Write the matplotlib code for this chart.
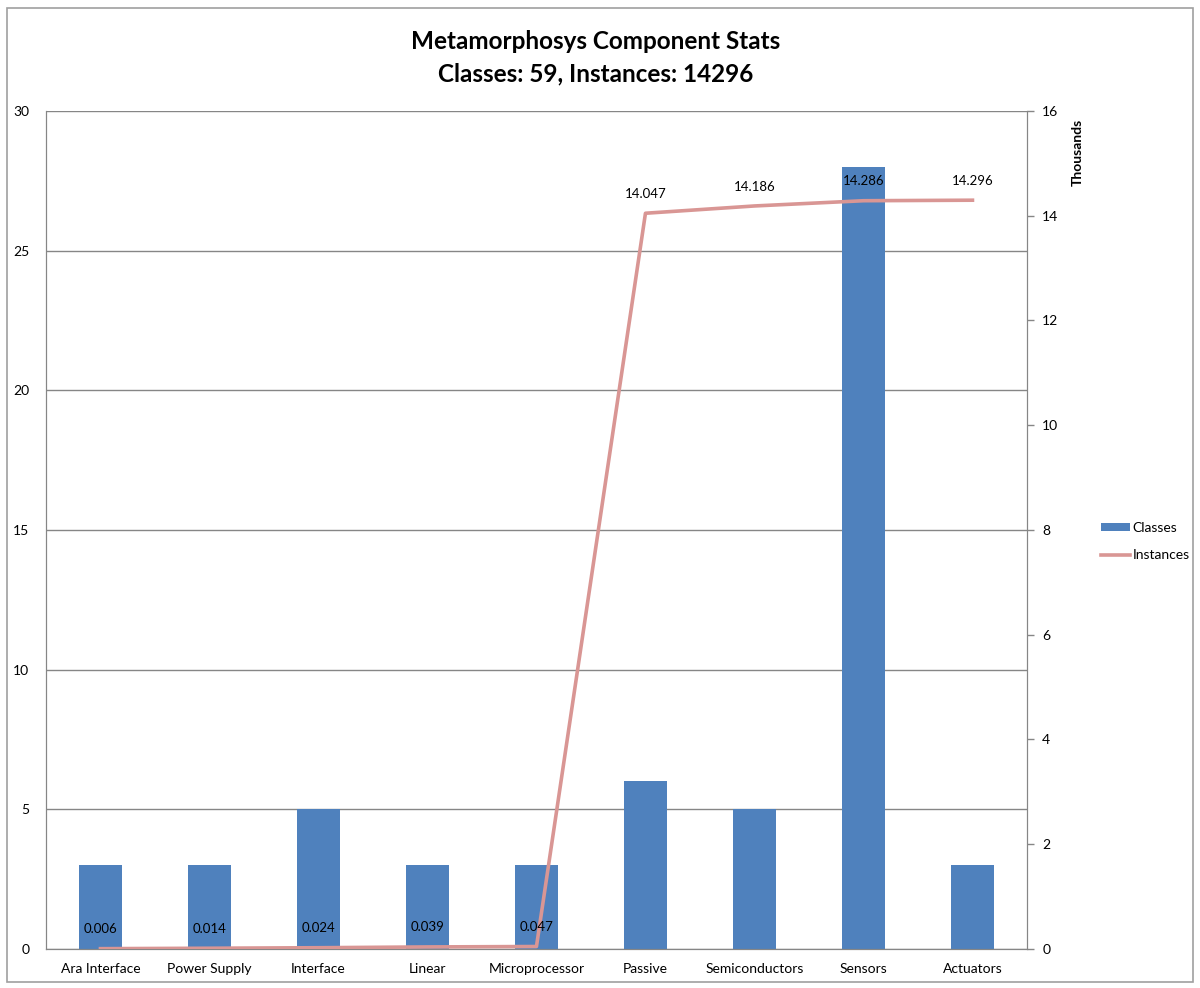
import matplotlib
matplotlib.use("Agg")
import matplotlib.pyplot as plt
from matplotlib.patches import Rectangle
import numpy as np

categories = ["Ara Interface", "Power Supply", "Interface", "Linear", "Microprocessor",
              "Passive", "Semiconductors", "Sensors", "Actuators"]
classes = [3, 3, 5, 3, 3, 6, 5, 28, 3]
instances_thousands = [0.006, 0.014, 0.024, 0.039, 0.047, 14.047, 14.186, 14.286, 14.296]
instance_labels = ["0.006", "0.014", "0.024", "0.039", "0.047", "14.047", "14.186", "14.286", "14.296"]

plt.rcParams['font.family'] = ['Lato', 'DejaVu Sans']

BAR = "#4F81BD"
LINE = "#D99694"
GRID = "#868686"

fig = plt.figure(figsize=(12, 9.88), dpi=100)
fig.patches.append(Rectangle((0.006, 0.006), 0.988, 0.986, transform=fig.transFigure,
                             fill=False, edgecolor="#A0A0A0", linewidth=1.2))

ax = fig.add_axes([0.0383, 0.0395, 0.8175, 0.8482])
x = np.arange(len(categories))
ax.bar(x, classes, width=0.4, color=BAR, label="Classes", zorder=2)
ax.set_xlim(-0.5, len(categories) - 0.5)
ax.set_ylim(0, 30)
ax.set_yticks(np.arange(0, 31, 5))
ax.yaxis.grid(True, color=GRID, linewidth=1.0)
ax.set_axisbelow(True)
ax.set_xticks(x)
ax.set_xticklabels(categories, fontsize=10)
ax.tick_params(axis='x', length=0, pad=10)
ax.tick_params(axis='y', length=0, pad=12, labelsize=10)
for s in ["left", "bottom", "right", "top"]:
    ax.spines[s].set_color(GRID)
ax.spines["top"].set_visible(False)

ax2 = ax.twinx()
ax2.plot(x, instances_thousands, color=LINE, linewidth=2.6, label="Instances", zorder=3)
ax2.set_ylim(0, 16)
ax2.set_yticks(np.arange(0, 17, 2))
ax2.tick_params(axis='y', length=5, width=1, color=GRID, direction='out', labelsize=10, pad=6)
for s in ["left", "bottom", "right", "top"]:
    ax2.spines[s].set_color(GRID)
ax2.spines["top"].set_visible(False)
ax2.set_ylabel("Thousands", fontsize=10, fontweight='bold')
ax2.yaxis.set_label_coords(1.046, 0.95)

for xi, yi, lab in zip(x, instances_thousands, instance_labels):
    ax2.annotate(lab, (xi, yi), xytext=(0, 14), textcoords="offset points",
                 ha="center", va="center", fontsize=9.5)

fig.text(0.496, 0.958, "Metamorphosys Component Stats", ha="center", va="center",
         fontsize=17.5, fontweight="bold")
fig.text(0.496, 0.925, "Classes: 59, Instances: 14296", ha="center", va="center",
         fontsize=17.5, fontweight="bold")

h1, l1 = ax.get_legend_handles_labels()
h2, l2 = ax2.get_legend_handles_labels()
fig.legend(h1 + h2, l1 + l2, loc="center left", bbox_to_anchor=(0.907, 0.452),
           frameon=False, fontsize=10, handlelength=2.1, handleheight=0.5,
           labelspacing=1.1, handletextpad=0.2)

fig.savefig("out.png", dpi=100)
